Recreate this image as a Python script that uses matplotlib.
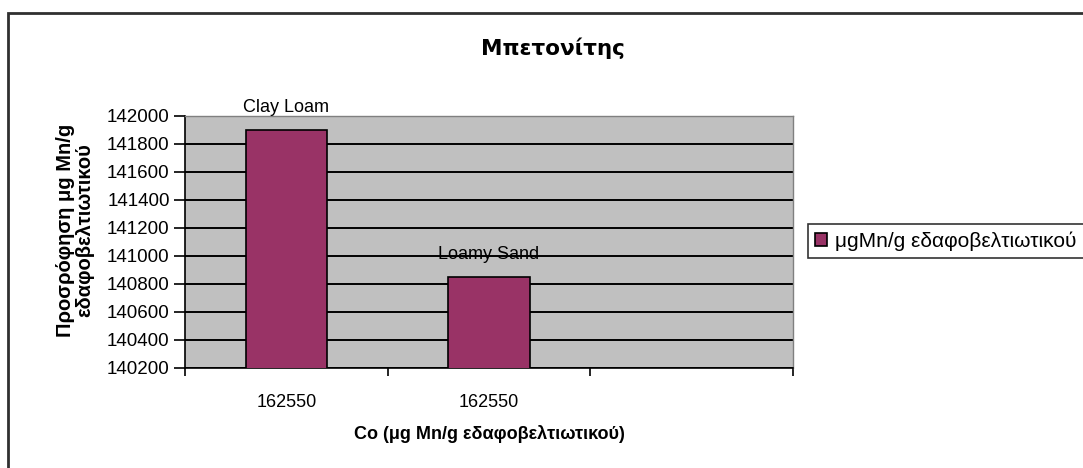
import numpy as np
import matplotlib.pyplot as plt
from matplotlib.patches import Rectangle

plt.rcParams['font.family'] = ['Liberation Sans', 'DejaVu Sans']

# data
soils = ["Clay Loam", "Loamy Sand"]
co_labels = ["162550", "162550", ""]
adsorption = [141900, 140850]
series_name = "μgMn/g εδαφοβελτιωτικού"

fig = plt.figure(figsize=(10.83, 4.68), dpi=100)
ax = fig.add_axes([0.1708, 0.2137, 0.5614, 0.5385])

# outer chart frame (right/bottom edges run off the canvas)
fig.patches.append(Rectangle((8 / 1083, -0.1), 1.2, 1 - 13 / 468 + 0.1,
                             transform=fig.transFigure, fill=False,
                             edgecolor='#303030', lw=2))

ax.set_facecolor('#C0C0C0')
ax.set_ylim(140200, 142000)
ax.set_xlim(-0.5, 2.5)
ax.set_yticks(np.arange(140200, 142001, 200))
ax.yaxis.grid(True, color='black', lw=1.4)
ax.set_axisbelow(True)

x = np.arange(len(adsorption))
bars = ax.bar(x, adsorption, width=0.4, bottom=0, color='#993366',
              edgecolor='black', lw=1.2, label=series_name, zorder=3)
for xi, val, name in zip(x, adsorption, soils):
    ax.text(xi, val + 100, name, ha='center', va='bottom', fontsize=13)

ax.set_xticks([-0.5, 0.5, 1.5, 2.5])
ax.set_xticklabels([])
ax.set_xticks(np.arange(3), minor=True)
ax.set_xticklabels(co_labels, minor=True, fontsize=13)
ax.tick_params(axis='x', which='minor', length=0, pad=19)
ax.tick_params(axis='x', which='major', length=6, width=1.2, direction='out')
ax.tick_params(axis='y', length=8, width=1.2, labelsize=13.5, pad=3)

for s in ['left', 'bottom']:
    ax.spines[s].set_color('black')
    ax.spines[s].set_linewidth(1.2)
for s in ['top', 'right']:
    ax.spines[s].set_color('#808080')
    ax.spines[s].set_linewidth(1)

ax.set_xlabel("Co (μg Mn/g εδαφοβελτιωτικού)", fontsize=13,
              fontweight='bold', labelpad=10)
fig.text(75 / 1083, 1 - 230 / 468, "Προσρόφηση μg Mn/g\nεδαφοβελτιωτικού",
         rotation=90, ha='center', va='center', fontsize=14.5,
         fontweight='bold', linespacing=1.0, multialignment='center')
fig.text(553 / 1083, 1 - 48 / 468, "Μπετονίτης", ha='center', va='center',
         fontsize=15.5, fontweight='bold', family='DejaVu Sans')

leg = fig.legend(loc='center left', bbox_to_anchor=(808 / 1083, 1 - 241 / 468),
                 fontsize=15, frameon=True, fancybox=False, handlelength=0.55,
                 handleheight=0.55, handletextpad=0.4, borderpad=0.35,
                 borderaxespad=0)
leg.get_frame().set_edgecolor('black')
leg.get_frame().set_linewidth(1.2)

fig.savefig('out.png', dpi=100)
